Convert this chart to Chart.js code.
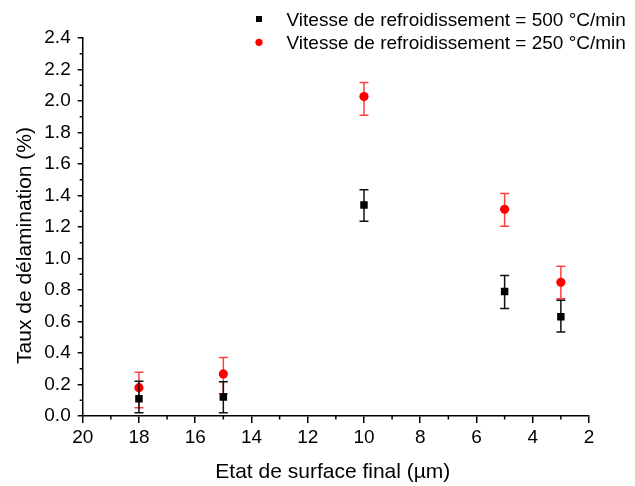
<!DOCTYPE html>
<html><head><meta charset="utf-8">
<script src="https://cdn.jsdelivr.net/npm/chart.js@4"></script>
<style>html,body{margin:0;padding:0;background:#fff}#wrap{width:635px;height:486px;position:relative}</style>
</head><body><div id="wrap"><canvas id="c"></canvas></div>
<script>
// ---- data ----
const surfaceFinish = [18, 15, 10, 5, 3];
const rate500 = [0.11, 0.12, 1.34, 0.79, 0.63];
const rate500Low = [0.02, 0.02, 1.236, 0.683, 0.533];
const rate500High = [0.22, 0.217, 1.436, 0.892, 0.735];
const rate250 = [0.18, 0.267, 2.028, 1.312, 0.849];
const rate250Low = [0.052, 0.142, 1.909, 1.205, 0.745];
const rate250High = [0.278, 0.372, 2.118, 1.413, 0.951];
const seriesLabels = ['Vitesse de refroidissement = 500 °C/min', 'Vitesse de refroidissement = 250 °C/min'];
const xTitle = 'Etat de surface final (µm)';
const yTitle = 'Taux de délamination (%)';

const FONT = '"Liberation Sans", Arial, sans-serif';

const errorBars = {
  id: 'errorBars',
  beforeDatasetDraw(chart, args) {
    const ds = chart.data.datasets[args.index];
    const xs = chart.scales.x, ys = chart.scales.y;
    const ctx = chart.ctx;
    ctx.save();
    ctx.strokeStyle = ds.errColor;
    ctx.lineWidth = 1.5;
    ds.data.forEach((p, j) => {
      const x = xs.getPixelForValue(p.x);
      const y1 = ys.getPixelForValue(ds.errLow[j]);
      const y2 = ys.getPixelForValue(ds.errHigh[j]);
      ctx.beginPath();
      ctx.moveTo(x, y1); ctx.lineTo(x, y2);
      ctx.moveTo(x - 4.5, y1); ctx.lineTo(x + 4.5, y1);
      ctx.moveTo(x - 4.5, y2); ctx.lineTo(x + 4.5, y2);
      ctx.stroke();
    });
    ctx.restore();
  }
};

const decorations = {
  id: 'decorations',
  afterDraw(chart) {
    const ctx = chart.ctx, a = chart.chartArea;
    const xs = chart.scales.x, ys = chart.scales.y;
    ctx.save();
    // minor ticks
    ctx.strokeStyle = '#000'; ctx.lineWidth = 1.5;
    ctx.beginPath();
    for (let v = 0.1; v < 2.4; v += 0.2) {
      const y = ys.getPixelForValue(v);
      ctx.moveTo(a.left, y); ctx.lineTo(a.left - 3, y);
    }
    for (let v = 3; v < 20; v += 2) {
      const x = xs.getPixelForValue(v);
      ctx.moveTo(x, a.bottom); ctx.lineTo(x, a.bottom + 3.5);
    }
    ctx.stroke();
    // axis titles
    ctx.fillStyle = '#000';
    ctx.font = '21px ' + FONT;
    ctx.textAlign = 'center';
    ctx.textBaseline = 'alphabetic';
    ctx.fillText(xTitle, (a.left + a.right) / 2 - 3, 478);
    ctx.save();
    ctx.translate(31, (a.top + a.bottom) / 2 + 18.5);
    ctx.rotate(-Math.PI / 2);
    ctx.fillText(yTitle, 0, 0);
    ctx.restore();
    // legend
    ctx.font = '19px ' + FONT;
    ctx.textAlign = 'left';
    ctx.fillStyle = '#000';
    ctx.fillRect(259 - 3, 19 - 3, 6, 6);
    ctx.fillText(seriesLabels[0], 286.5, 26);
    ctx.fillStyle = '#ff0000';
    ctx.beginPath(); ctx.arc(259, 42.3, 3.6, 0, Math.PI * 2); ctx.fill();
    ctx.fillStyle = '#000';
    ctx.fillText(seriesLabels[1], 286.5, 49.3);
    ctx.restore();
  }
};

const toPts = (ys) => surfaceFinish.map((x, i) => ({x, y: ys[i]}));

new Chart(document.getElementById('c'), {
  type: 'scatter',
  data: {
    datasets: [
      {
        label: seriesLabels[0], data: toPts(rate500),
        errLow: rate500Low, errHigh: rate500High, errColor: '#111',
        pointStyle: 'rect', pointRadius: 5.3, pointHoverRadius: 5.3,
        backgroundColor: '#000', borderColor: '#000', borderWidth: 0, order: 0
      },
      {
        label: seriesLabels[1], data: toPts(rate250),
        errLow: rate250Low, errHigh: rate250High, errColor: 'rgba(255,30,30,0.85)',
        pointStyle: 'circle', pointRadius: 4.6, pointHoverRadius: 4.6,
        backgroundColor: '#ff0000', borderColor: '#ff0000', borderWidth: 0, order: 1
      }
    ]
  },
  options: {
    responsive: true, maintainAspectRatio: false, animation: false,
    layout: { padding: { left: 0, right: 46, top: 38, bottom: 0 } },
    plugins: { legend: { display: false }, tooltip: { enabled: false } },
    scales: {
      x: {
        type: 'linear', reverse: true, min: 2, max: 20,
        afterFit(s) { s.height = 70; },
        ticks: { stepSize: 2, color: '#000', font: { family: FONT, size: 19 }, padding: 3, maxRotation: 0 },
        grid: { drawOnChartArea: false, drawTicks: true, tickLength: 7, color: '#000', lineWidth: 1.5 },
        border: { color: '#000', width: 1.5 }
      },
      y: {
        type: 'linear', min: 0, max: 2.4,
        afterFit(s) { s.width = 82.7; },
        ticks: { stepSize: 0.2, color: '#000', font: { family: FONT, size: 19 }, padding: 7,
                 callback: (v) => Number(v).toFixed(1) },
        grid: { drawOnChartArea: false, drawTicks: true, tickLength: 5, color: '#000', lineWidth: 1.5 },
        border: { color: '#000', width: 1.5 }
      }
    }
  },
  plugins: [errorBars, decorations]
});
</script>
</body></html>
